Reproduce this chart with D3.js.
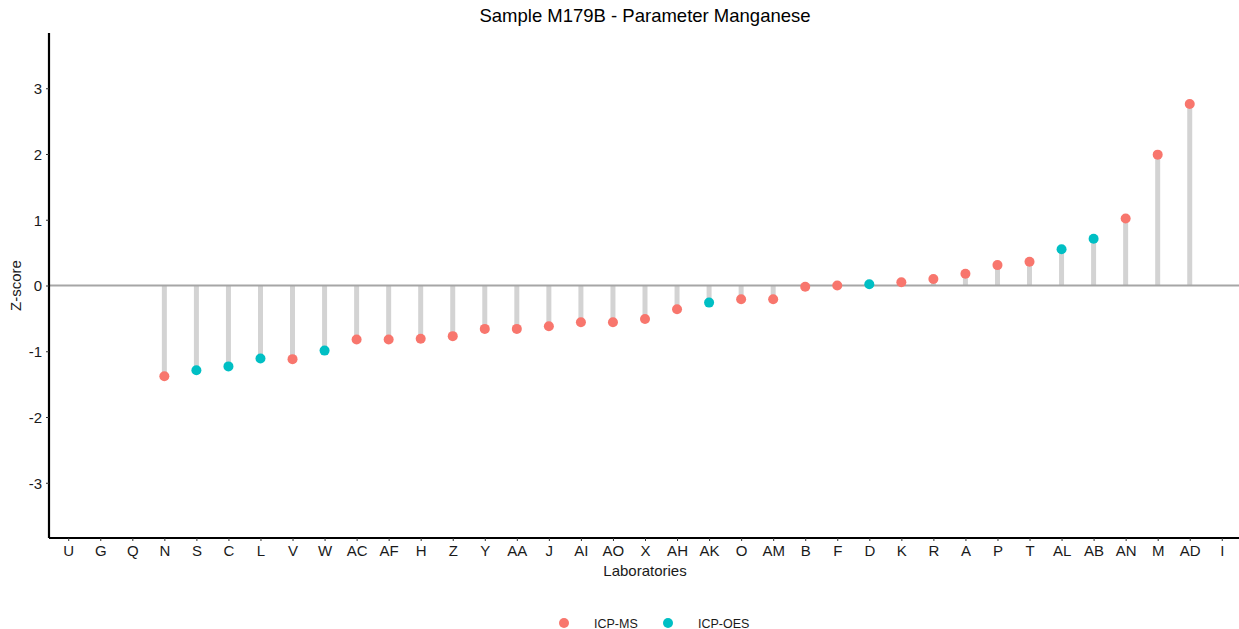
<!DOCTYPE html>
<html>
<head>
<meta charset="utf-8">
<script src="https://cdn.jsdelivr.net/npm/d3@7"></script>
<style>
  html, body { margin: 0; padding: 0; background: #fff; }
  svg { display: block; font-family: "Liberation Sans", Arial, sans-serif; }
</style>
</head>
<body>
<svg id="chart" width="1239" height="629"></svg>
<script>
// ---- Data ----
const labs = ["U","G","Q","N","S","C","L","V","W","AC","AF","H","Z","Y","AA","J","AI","AO","X","AH","AK","O","AM","B","F","D","K","R","A","P","T","AL","AB","AN","M","AD","I"];
const zscores = [null,null,null,-1.38,-1.29,-1.23,-1.11,-1.12,-0.99,-0.82,-0.82,-0.81,-0.77,-0.66,-0.66,-0.62,-0.56,-0.56,-0.51,-0.36,-0.26,-0.21,-0.21,-0.02,0.00,0.02,0.05,0.10,0.18,0.31,0.36,0.55,0.71,1.02,1.99,2.76,null];
const methods = [null,null,null,"ICP-MS","ICP-OES","ICP-OES","ICP-OES","ICP-MS","ICP-OES","ICP-MS","ICP-MS","ICP-MS","ICP-MS","ICP-MS","ICP-MS","ICP-MS","ICP-MS","ICP-MS","ICP-MS","ICP-MS","ICP-OES","ICP-MS","ICP-MS","ICP-MS","ICP-MS","ICP-OES","ICP-MS","ICP-MS","ICP-MS","ICP-MS","ICP-MS","ICP-OES","ICP-OES","ICP-MS","ICP-MS","ICP-MS",null];
const methodNames = ["ICP-MS","ICP-OES"];
const methodColors = ["#F8766D","#00BFC4"];
const yTicks = [-3,-2,-1,0,1,2,3];
const yDomain = [-3.84, 3.84];
const titleText = "Sample M179B - Parameter Manganese";
const xTitle = "Laboratories";
const yTitle = "Z-score";

(function () {
const data = labs.map((l, i) => ({lab: l, z: zscores[i], method: methods[i]}))
  .filter(d => d.z !== null);

// ---- Layout ----
const svg = d3.select("#chart");
const pLeft = 49, pRight = 1241, pTop = 33, pBottom = 538;

const x = d3.scalePoint().domain(labs).range([pLeft, pRight]).padding(0.6);
const y = d3.scaleLinear().domain(yDomain).range([pBottom, pTop]);
const color = d3.scaleOrdinal().domain(methodNames).range(methodColors);

// segments
svg.append("g").selectAll("line").data(data).join("line")
  .attr("x1", d => x(d.lab)).attr("x2", d => x(d.lab))
  .attr("y1", y(0)).attr("y2", d => y(d.z))
  .attr("stroke", "#D3D3D3").attr("stroke-width", 5);

// zero line
svg.append("line")
  .attr("x1", pLeft).attr("x2", pRight)
  .attr("y1", y(0)).attr("y2", y(0))
  .attr("stroke", "#A6A6A6").attr("stroke-width", 2.2);

// points
svg.append("g").selectAll("circle").data(data).join("circle")
  .attr("cx", d => x(d.lab)).attr("cy", d => y(d.z))
  .attr("r", 5)
  .attr("fill", d => color(d.method));

// axes
const yAxis = svg.append("g").attr("transform", `translate(${pLeft},0)`)
  .call(d3.axisLeft(y).tickValues(yTicks).tickSize(3).tickPadding(4).tickFormat(d => String(d)));
const xAxis = svg.append("g").attr("transform", `translate(0,${pBottom})`)
  .call(d3.axisBottom(x).tickSize(3).tickPadding(4));

[yAxis, xAxis].forEach(g => {
  g.select(".domain").attr("stroke", "#000").attr("stroke-width", 2.2);
  g.selectAll(".tick line").attr("stroke", "#333").attr("stroke-width", 1);
  g.selectAll(".tick text").attr("fill", "#1a1a1a").style("font-size", "15px")
    .style("font-family", "Liberation Sans, Arial, sans-serif");
});
yAxis.select(".domain").attr("d", `M0,${pTop}V${pBottom}`);
xAxis.select(".domain").attr("d", `M${pLeft},0H${pRight}`);
yAxis.selectAll(".tick text").attr("dy", "0.36em");

// titles
svg.append("text").attr("x", (pLeft + pRight) / 2).attr("y", 22)
  .attr("text-anchor", "middle").attr("fill", "#000")
  .style("font-size", "18.5px").text(titleText);

svg.append("text").attr("x", (pLeft + pRight) / 2).attr("y", 576)
  .attr("text-anchor", "middle").attr("fill", "#1a1a1a")
  .style("font-size", "15px").text(xTitle);

svg.append("text").attr("transform", `translate(21,${(pTop + pBottom) / 2}) rotate(-90)`)
  .attr("text-anchor", "middle").attr("fill", "#1a1a1a")
  .style("font-size", "15px").text(yTitle);

// legend
const legendItems = [
  {name: methodNames[0], cx: 564, tx: 594},
  {name: methodNames[1], cx: 668, tx: 698}
];
const lg = svg.append("g");
legendItems.forEach(it => {
  lg.append("circle").attr("cx", it.cx).attr("cy", 623).attr("r", 5).attr("fill", color(it.name));
  lg.append("text").attr("x", it.tx).attr("y", 627.5).attr("fill", "#1a1a1a")
    .style("font-size", "12.5px").text(it.name);
});
})();
</script>
</body>
</html>
